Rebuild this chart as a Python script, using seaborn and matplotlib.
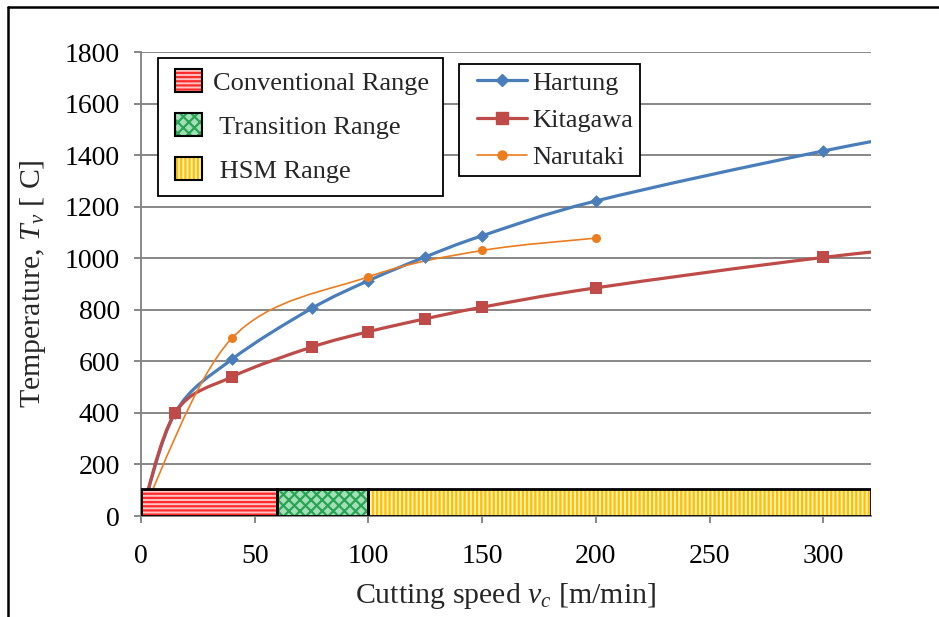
import numpy as np
import matplotlib
matplotlib.use("Agg")
import matplotlib.pyplot as plt
import matplotlib.patches as mp
import seaborn as sns
from matplotlib.path import Path
from matplotlib.patches import PathPatch, Patch
from matplotlib.lines import Line2D
from matplotlib.legend_handler import HandlerPatch, HandlerLine2D

# ---------------- data ----------------
hartung_x = [0, 15, 40, 75, 100, 125, 150, 200, 300, 400]
hartung_y = [0, 400, 608, 805, 913, 1005, 1087, 1222, 1416, 1580]
kitagawa_x = [0, 15, 40, 75, 100, 125, 150, 200, 300, 400]
kitagawa_y = [0, 400, 540, 655, 715, 765, 810, 885, 1003, 1095]
narutaki_x = [0, 40, 100, 150, 200]
narutaki_y = [0, 690, 928, 1030, 1078]

range_names = ["Conventional Range", " Transition Range", " HSM Range"]
range_start = [0, 60, 100]
range_end = [60, 100, 321]
range_height = 105

x_ticks = [0, 50, 100, 150, 200, 250, 300]
y_ticks = [0, 200, 400, 600, 800, 1000, 1200, 1400, 1600, 1800]

# ---------------- style ----------------
sns.set_theme(style="white")
plt.rcParams["font.family"] = ["Liberation Serif", "DejaVu Serif"]
plt.rcParams["mathtext.fontset"] = "custom"
plt.rcParams["mathtext.rm"] = "Liberation Serif"
plt.rcParams["mathtext.it"] = "Liberation Serif:italic"
plt.rcParams["hatch.linewidth"] = 1.6

fig = plt.figure(figsize=(9.39, 6.17), dpi=100)
W, H = 939, 617
ax = fig.add_axes([141 / W, 1 - 516 / H, (871 - 141) / W, (516 - 52) / H])

grid_c = "#878787"
blue = "#4a7ebb"
red = "#be4b48"
orange = "#ec7c1e"


def smooth_path(xs, ys):
    pts = np.column_stack([xs, ys]).astype(float)
    n = len(pts)
    verts = [pts[0]]
    codes = [Path.MOVETO]
    for i in range(n - 1):
        p0 = pts[i - 1] if i > 0 else pts[i]
        p1 = pts[i]
        p2 = pts[i + 1]
        p3 = pts[i + 2] if i + 2 < n else pts[i + 1]
        c1 = p1 + (p2 - p0) / 6.0
        c2 = p2 - (p3 - p1) / 6.0
        verts += [c1, c2, p2]
        codes += [Path.CURVE4] * 3
    return Path(verts, codes)


series = [
    ("Hartung", hartung_x, hartung_y, blue, "D", 6.5, 2.3),
    ("Kitagawa", kitagawa_x, kitagawa_y, red, "s", 8, 2.3),
    ("Narutaki", narutaki_x, narutaki_y, orange, "o", 6.5, 1.2),
]
handles = []
for name, xs, ys, col, mk, ms, lw in series:
    pp = PathPatch(smooth_path(xs, ys), fill=False, edgecolor=col, lw=lw, zorder=2)
    ax.add_patch(pp)
    sns.scatterplot(x=xs, y=ys, ax=ax, color=col, marker=mk, s=ms ** 2,
                    edgecolor=col, linewidth=0, zorder=2.5, legend=False)
    handles.append(Line2D([0], [0], color=col, lw=lw, marker=mk, markersize=ms,
                          markeredgecolor=col))

# ranges
face = ["#ffc4c4", "#a5dfba", "#fff1b8"]
hatch_col = ["#ff2a2a", "#27a552", "#ffc000"]
hatches = ["----", "xxx", "||||"]
range_handles = []
for s, e, fc, hc, h in zip(range_start, range_end, face, hatch_col, hatches):
    ax.bar(s, range_height, width=e - s, align="edge", color=fc, edgecolor=hc,
           hatch=h, linewidth=0, zorder=3)
    ax.bar(s, range_height, width=e - s, align="edge", fill=False,
           edgecolor="black", linewidth=2, zorder=3.2)
    range_handles.append(Patch(facecolor=fc, edgecolor=hc, hatch=h, linewidth=0))

# axes
ax.set_xlim(0, 321)
ax.set_ylim(0, 1800)
ax.set_xticks(x_ticks)
ax.set_yticks(y_ticks)
ax.yaxis.grid(True, color=grid_c, lw=1.4)
ax.set_axisbelow(True)
for sp in ["top", "right"]:
    ax.spines[sp].set_visible(False)
for sp in ["left", "bottom"]:
    ax.spines[sp].set_color(grid_c)
    ax.spines[sp].set_linewidth(1.4)
ax.tick_params(axis="both", direction="out", length=5, width=1.4, color=grid_c,
               labelsize=20, labelcolor="black", bottom=True, left=True)
ax.tick_params(axis="x", pad=15)
ax.tick_params(axis="y", pad=10)
ax.set_xlabel("Cutting speed $v_c$ [m/min]", fontsize=21.5, labelpad=9)
ax.set_ylabel("Temperature, $T_v$ [ C]", fontsize=21.5, labelpad=12)


class BoxedPatch(HandlerPatch):
    def create_artists(self, legend, orig_handle, xdescent, ydescent, width, height, fontsize, trans):
        w, hgt = 19, 16
        x0 = -xdescent + (width - w) / 2
        y0 = -ydescent + (height - hgt) / 2
        p1 = mp.Rectangle((x0, y0), w, hgt, facecolor=orig_handle.get_facecolor(),
                          edgecolor=orig_handle.get_edgecolor(), hatch=orig_handle.get_hatch(),
                          lw=0, transform=trans)
        p2 = mp.Rectangle((x0, y0), w, hgt, fill=False, edgecolor="black", lw=1.5, transform=trans)
        return [p1, p2]


class ShiftedLine(HandlerLine2D):
    def create_artists(self, legend, orig_handle, xdescent, ydescent, width, height, fontsize, trans):
        off = 8
        return super().create_artists(legend, orig_handle, xdescent - off, ydescent,
                                      width - off, height, fontsize, trans)


leg1 = fig.legend(range_handles, range_names, loc="upper left",
                  bbox_to_anchor=(158 / W, 1 - 58 / H), borderaxespad=0,
                  fontsize=19, frameon=True, fancybox=False, edgecolor="black",
                  framealpha=1, borderpad=0.5, labelspacing=0.78, handlelength=1.3,
                  handletextpad=0.3, handler_map={Patch: BoxedPatch()})
leg1.get_frame().set_linewidth(1.3)
leg2 = fig.legend(handles, ["Hartung", "Kitagawa", "Narutaki"], loc="upper left",
                  bbox_to_anchor=(459 / W, 1 - 64 / H), borderaxespad=0,
                  fontsize=19, frameon=True, fancybox=False, edgecolor="black",
                  framealpha=1, borderpad=0.27, labelspacing=0.52, handlelength=2.3,
                  handletextpad=0.2, handler_map={Line2D: ShiftedLine()})
leg2.get_frame().set_linewidth(1.3)

# outer frame
fig.add_artist(Line2D([8 / W, 8 / W], [1 - 7 / H, 0], color="black", lw=1.8,
                      transform=fig.transFigure))
fig.add_artist(Line2D([8 / W, 1], [1 - 7 / H, 1 - 7 / H], color="black", lw=1.8,
                      transform=fig.transFigure))

fig.savefig("out.png", dpi=100)
